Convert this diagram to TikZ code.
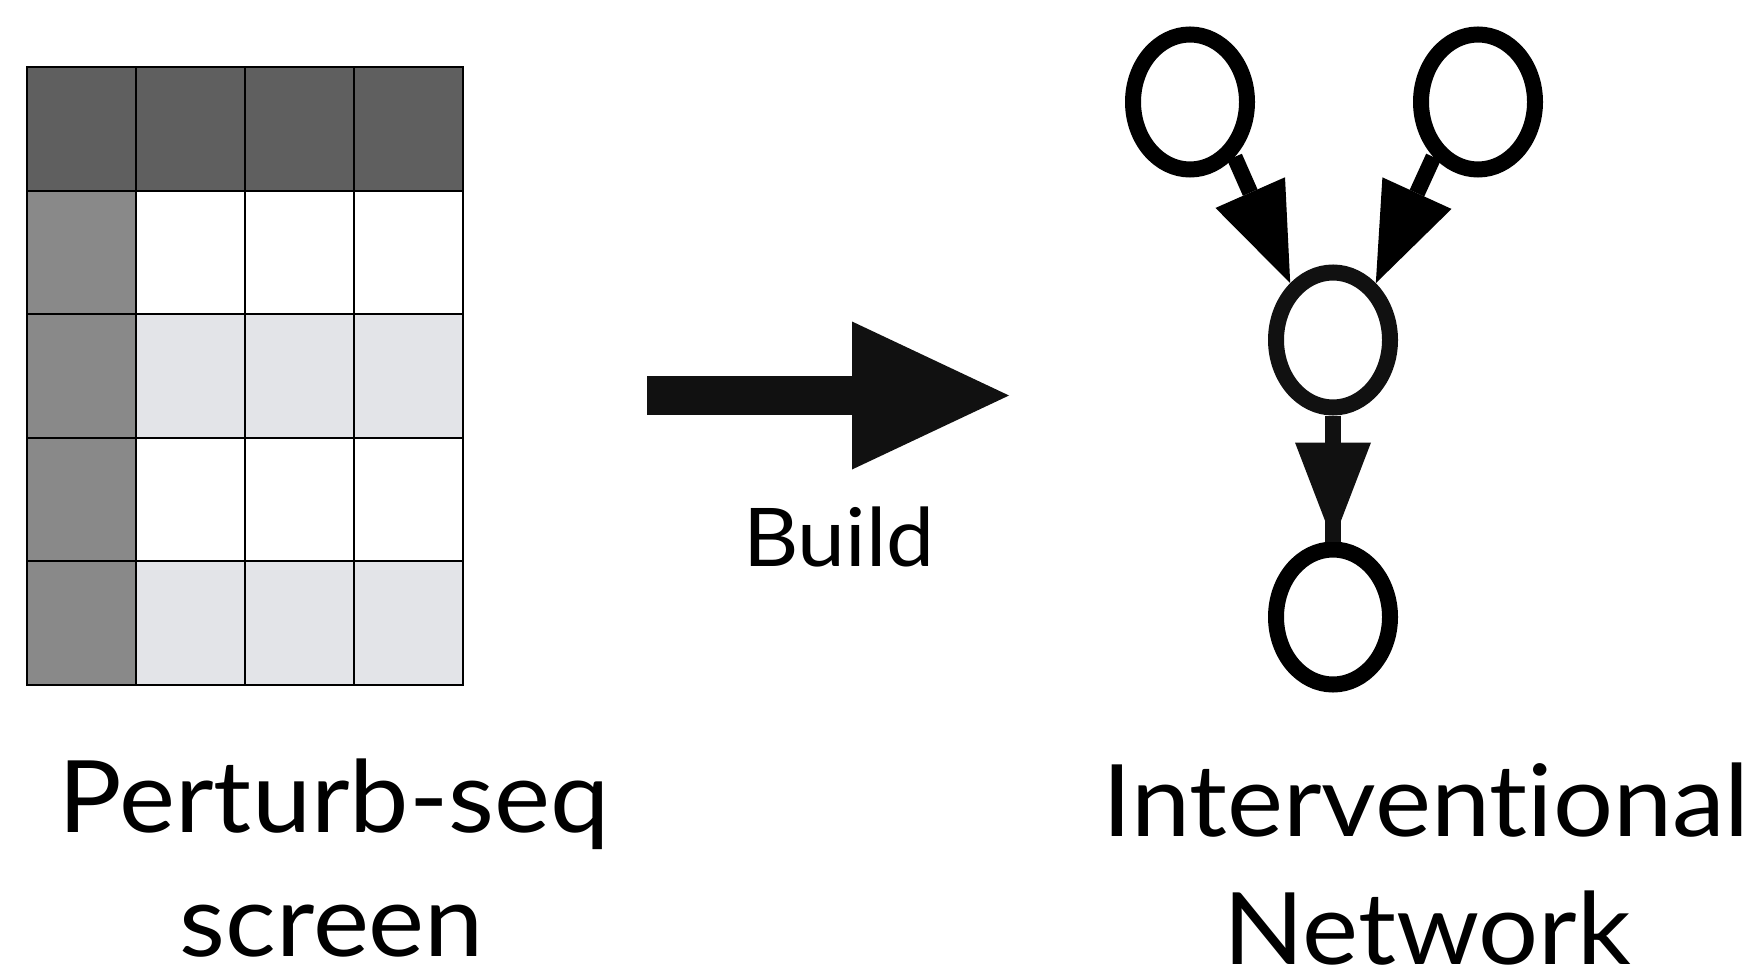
\documentclass[tikz,border=0pt]{standalone}
\usepackage{fontspec}
\setmainfont{Lato}[Ligatures=NoCommon, FakeStretch=1.06]
\usetikzlibrary{arrows.meta,shapes.geometric}
\definecolor{hdrgray}{HTML}{5F5F5F}
\definecolor{sidegray}{HTML}{898989}
\definecolor{paleband}{HTML}{E3E4E8}
\definecolor{ink}{HTML}{111111}

\begin{document}
\begin{tikzpicture}[x=1pt,y=-1pt,
  cellline/.style={draw=black, line width=2pt},
  var/.style={ellipse, draw=black, fill=white, line width=16pt,
    minimum width=114pt, minimum height=135pt, inner sep=0pt},
  link/.style={draw=black, line width=16pt,
    -{Triangle[length=99pt,width=76pt,line width=0pt]}},
  captiontext/.style={font=\fontsize{100}{120}\selectfont, anchor=base, inner sep=0pt}
]
\useasboundingbox (0,0) rectangle (1758,968);

% screen matrix: header row, perturbation column, alternating bands
\foreach \i in {0,...,4}{
  \foreach \j in {0,...,3}{
    \ifnum\i=0 \def\cellfill{hdrgray}\else
      \ifnum\j=0 \def\cellfill{sidegray}\else
        \ifodd\i \def\cellfill{white}\else\def\cellfill{paleband}\fi
      \fi
    \fi
    \filldraw[fill=\cellfill, cellline] ({27+109*\j},{67+123.6*\i}) rectangle ++(109,123.6);
  }
}

% build arrow
\coordinate (buildtail) at (647,395.5);
\coordinate (buildhead) at (1009,395.5);
\draw[color=ink, line width=39pt,
  -{Triangle[length=157pt,width=148pt,line width=0pt]}] (buildtail) -- (buildhead);
\node[font=\fontsize{81}{96}\selectfont, anchor=base, inner sep=0pt] (buildlbl) at (839,566) {Build};

% network
\node[var] (tl) at (1190,102) {};
\node[var] (tr) at (1478,102) {};
\node[var, draw=ink] (mid) at (1333,340) {};
\node[var] (bot) at (1333,617) {};

\draw[link] (tl.-51) -- (mid.127);
\draw[link] (tr.231) -- (mid.53);
\draw[draw=ink, line width=16pt] (mid.south) -- (bot.north);
\draw[link, draw=ink] (mid.south) -- (bot.north);

% captions
\node[captiontext] (screenA) at (334,832) {Perturb-seq};
\node[captiontext] (screenB) at (332,956) {screen};
\node[captiontext] (netA) at (1426,836) {Interventional};
\node[captiontext] (netB) at (1427,964) {Network};
\end{tikzpicture}
\end{document}
